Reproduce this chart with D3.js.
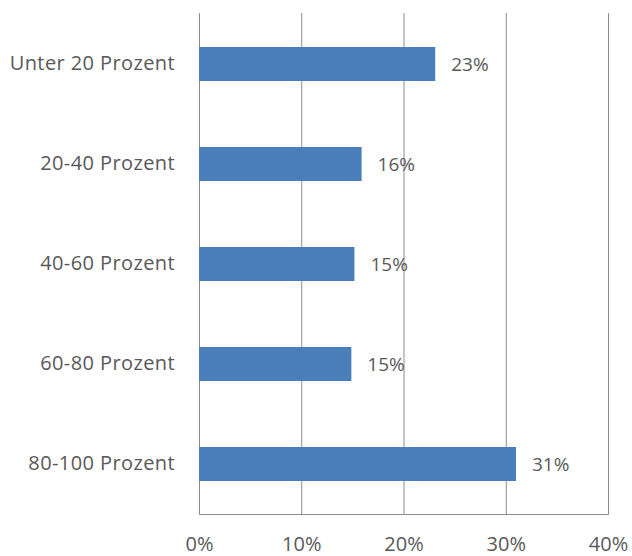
<!DOCTYPE html>
<html>
<head>
<meta charset="utf-8">
<script src="https://cdn.jsdelivr.net/npm/d3@7"></script>
<style>
  body { margin: 0; background: #fff; }
  text { font-family: "Open Sans", sans-serif; fill: #595959; }
</style>
</head>
<body>
<div id="chart"></div>
<script>
/* horizontal bar chart: share per range */

const categories = ["Unter 20 Prozent", "20-40 Prozent", "40-60 Prozent", "60-80 Prozent", "80-100 Prozent"];
const values = [0.231, 0.159, 0.152, 0.149, 0.310];
const xTicks = [0, 0.1, 0.2, 0.3, 0.4];

const data = categories.map((c, i) => ({ category: c, value: values[i] }));

const width = 632,
      height = 556,
      margin = ({ top: 14, right: 24, bottom: 42, left: 199 });

let svg = d3.select("#chart")
    .append("svg")
    .attr("width", width)
    .attr("height", height);

let x = d3.scaleLinear()
    .domain([0, 0.4])
    .range([margin.left, width - margin.right]);

let y = d3.scaleBand()
    .domain(categories)
    .range([margin.top, height - margin.bottom])
    .paddingInner(0.66)
    .paddingOuter(0.33);

/* vertical gridlines, incl. the 0% line */
svg.append("g")
    .selectAll("line")
    .data(xTicks)
    .join("line")
    .attr("x1", d => x(d) + 0.5)
    .attr("x2", d => x(d) + 0.5)
    .attr("y1", margin.top - 1)
    .attr("y2", height - margin.bottom)
    .attr("stroke", "#8c8c8c")
    .attr("stroke-width", 1);

/* bottom line */
svg.append("line")
    .attr("x1", x(0))
    .attr("x2", x(0.4) + 1)
    .attr("y1", height - margin.bottom + 0.5)
    .attr("y2", height - margin.bottom + 0.5)
    .attr("stroke", "#8c8c8c");

const xAxis = g => g
    .attr("transform", `translate(0, ${height - margin.bottom})`)
    .call(d3.axisBottom(x).tickValues(xTicks).tickFormat(d3.format(".0%")).tickSize(0).tickPadding(23))
    .call(g => g.select(".domain").remove())
    .call(g => g.selectAll("text").attr("font-size", 20).attr("fill", "#595959").attr("font-family", "Open Sans"));

const yAxis = g => g
    .attr("transform", `translate(${margin.left}, 0)`)
    .call(d3.axisLeft(y).tickSize(0).tickPadding(24))
    .call(g => g.select(".domain").remove())
    .call(g => g.selectAll("text").attr("font-size", 20).attr("letter-spacing", 0.4)
        .attr("fill", "#595959").attr("font-family", "Open Sans"));

svg.append("g").call(xAxis);
svg.append("g").call(yAxis);

let bar = svg.selectAll(".bar")
    .data(data)
    .join("g")
    .attr("class", "bar");

bar.append("rect")
    .attr("fill", "#4a7ebb")
    .attr("x", x(0))
    .attr("y", d => y(d.category))
    .attr("width", d => x(d.value) - x(0))
    .attr("height", y.bandwidth());

bar.append("text")
    .attr("x", d => x(d.value) + 16)
    .attr("y", d => y(d.category) + y.bandwidth() / 2)
    .attr("dy", "0.35em")
    .attr("font-size", 19)
    .text(d => d3.format(".0%")(d.value));
</script>
</body>
</html>
